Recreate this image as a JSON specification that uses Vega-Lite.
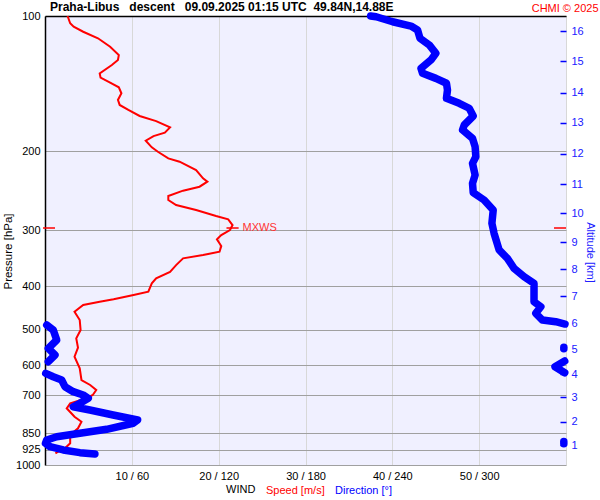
{
  "$schema": "https://vega.github.io/schema/vega-lite/v6.json",
  "autosize": "none",
  "padding": {"left": 45, "top": 16, "right": 34, "bottom": 35},
  "width": 521,
  "height": 449,
  "background": "white",
  "title": {
    "text": "Praha-Libus\u00a0\u00a0\u00a0descent\u00a0\u00a0\u00a009.09.2025 01:15 UTC\u00a0\u00a049.84N,14.88E",
    "anchor": "start",
    "frame": "group",
    "fontSize": 12,
    "fontWeight": "bold",
    "color": "black",
    "font": "Liberation Sans",
    "dx": 5,
    "offset": -12
  },
  "datasets": {
    "speed": [
      {"p": 100, "speed": 2.6}, {"p": 103.8, "speed": 2.9}, {"p": 105.6, "speed": 3.3}, {"p": 108.4, "speed": 4.4},
      {"p": 112.1, "speed": 6.1}, {"p": 117.1, "speed": 7.5}, {"p": 122.2, "speed": 8.5}, {"p": 125.3, "speed": 8.4},
      {"p": 128.6, "speed": 7.7}, {"p": 134.2, "speed": 6.3}, {"p": 137.2, "speed": 6.4}, {"p": 140.8, "speed": 7.5},
      {"p": 144.1, "speed": 8.5}, {"p": 148.6, "speed": 8.8}, {"p": 153.8, "speed": 8.4}, {"p": 157.8, "speed": 8.6},
      {"p": 161.9, "speed": 9.6}, {"p": 167.0, "speed": 10.9}, {"p": 171.4, "speed": 12.8}, {"p": 177.0, "speed": 14.4},
      {"p": 181.9, "speed": 13.8}, {"p": 185.1, "speed": 12.5}, {"p": 189.6, "speed": 11.6}, {"p": 196.1, "speed": 12.3},
      {"p": 200.6, "speed": 13.0}, {"p": 207.5, "speed": 14.2}, {"p": 211.1, "speed": 15.5}, {"p": 220.3, "speed": 17.4},
      {"p": 229.9, "speed": 18.2}, {"p": 233.9, "speed": 18.7}, {"p": 240.0, "speed": 17.8}, {"p": 244.9, "speed": 15.9},
      {"p": 251.7, "speed": 14.2}, {"p": 256.9, "speed": 14.2}, {"p": 263.6, "speed": 15.1}, {"p": 270.5, "speed": 17.4},
      {"p": 278.9, "speed": 19.7}, {"p": 283.7, "speed": 21.1}, {"p": 292.1, "speed": 21.6}, {"p": 299.7, "speed": 21.3},
      {"p": 307.5, "speed": 20.3}, {"p": 314.4, "speed": 19.8}, {"p": 325.4, "speed": 20.3}, {"p": 335.0, "speed": 20.1},
      {"p": 340.8, "speed": 18.2}, {"p": 346.6, "speed": 15.9}, {"p": 358.7, "speed": 15.1}, {"p": 371.3, "speed": 14.4},
      {"p": 384.0, "speed": 12.8}, {"p": 394.0, "speed": 12.3}, {"p": 411.2, "speed": 11.9}, {"p": 418.2, "speed": 10.2},
      {"p": 427.6, "speed": 7.9}, {"p": 432.8, "speed": 6.3}, {"p": 440.3, "speed": 4.4}, {"p": 455.6, "speed": 3.4},
      {"p": 475.5, "speed": 4.0}, {"p": 500.5, "speed": 4.1}, {"p": 522.3, "speed": 3.6}, {"p": 548.0, "speed": 3.8},
      {"p": 574.0, "speed": 3.4}, {"p": 609.1, "speed": 4.0}, {"p": 646.7, "speed": 4.2}, {"p": 663.5, "speed": 5.2},
      {"p": 680.8, "speed": 5.9}, {"p": 698.4, "speed": 5.5}, {"p": 710.3, "speed": 4.8}, {"p": 728.8, "speed": 2.9},
      {"p": 747.7, "speed": 2.5}, {"p": 780.6, "speed": 3.4}, {"p": 800.9, "speed": 4.2}, {"p": 828.5, "speed": 3.8},
      {"p": 857.4, "speed": 2.9}, {"p": 894.7, "speed": 2.9}, {"p": 917.9, "speed": 2.3}, {"p": 929.2, "speed": 1.7},
      {"p": 941.7, "speed": 1.2}
    ],
    "dir": [
      {"p": 100, "dir": 225, "seg": "a"}, {"p": 100.4, "dir": 228.8, "seg": "a"}, {"p": 103.0, "dir": 240.2, "seg": "a"},
      {"p": 105.3, "dir": 252.9, "seg": "a"}, {"p": 107.4, "dir": 257.4, "seg": "a"}, {"p": 112.1, "dir": 259.1, "seg": "a"},
      {"p": 116.0, "dir": 265.5, "seg": "a"}, {"p": 121.1, "dir": 270.1, "seg": "a"}, {"p": 125.3, "dir": 266.7, "seg": "a"},
      {"p": 130.8, "dir": 259.8, "seg": "a"}, {"p": 134.2, "dir": 260.9, "seg": "a"}, {"p": 137.7, "dir": 270.1, "seg": "a"},
      {"p": 141.2, "dir": 277.4, "seg": "a"}, {"p": 146.2, "dir": 278.1, "seg": "a"}, {"p": 152.5, "dir": 277.4, "seg": "a"},
      {"p": 156.5, "dir": 286.2, "seg": "a"}, {"p": 160.5, "dir": 293.1, "seg": "a"}, {"p": 167.0, "dir": 295.9, "seg": "a"},
      {"p": 174.9, "dir": 289.7, "seg": "a"}, {"p": 179.4, "dir": 288.5, "seg": "a"}, {"p": 187.3, "dir": 295.4, "seg": "a"},
      {"p": 195.5, "dir": 297.2, "seg": "a"}, {"p": 205.8, "dir": 297.7, "seg": "a"}, {"p": 212.9, "dir": 295.4, "seg": "a"},
      {"p": 226.0, "dir": 297.2, "seg": "a"}, {"p": 235.9, "dir": 295.4, "seg": "a"}, {"p": 247.4, "dir": 295.9, "seg": "a"},
      {"p": 256.9, "dir": 303.4, "seg": "a"}, {"p": 270.5, "dir": 309.7, "seg": "a"}, {"p": 289.5, "dir": 308.8, "seg": "a"},
      {"p": 304.8, "dir": 310.3, "seg": "a"}, {"p": 332.0, "dir": 313.8, "seg": "a"}, {"p": 346.6, "dir": 319.5, "seg": "a"},
      {"p": 364.8, "dir": 324.1, "seg": "a"}, {"p": 380.7, "dir": 331.0, "seg": "a"}, {"p": 394.0, "dir": 337.9, "seg": "a"},
      {"p": 414.6, "dir": 337.9, "seg": "a"}, {"p": 432.8, "dir": 337.9, "seg": "a"}, {"p": 444.0, "dir": 342.6, "seg": "a"},
      {"p": 459.3, "dir": 339.1, "seg": "a"}, {"p": 475.5, "dir": 343.7, "seg": "a"}, {"p": 479.6, "dir": 352.9, "seg": "a"},
      {"p": 485.3, "dir": 359.3, "seg": "a"},
      {"p": 487.7, "dir": 1.2, "seg": "b"}, {"p": 500.5, "dir": 5.7, "seg": "b"}, {"p": 526.8, "dir": 8.1, "seg": "b"},
      {"p": 549.8, "dir": 2.3, "seg": "b"}, {"p": 568.9, "dir": 6.9, "seg": "b"}, {"p": 588.8, "dir": 2.3, "seg": "b"},
      {"p": 546.5, "dir": 358.5, "seg": "c"}, {"p": 551.0, "dir": 358.5, "seg": "c"},
      {"p": 586.8, "dir": 359.1, "seg": "d"}, {"p": 604.2, "dir": 352.4, "seg": "d"}, {"p": 623.1, "dir": 359.1, "seg": "d"},
      {"p": 625.1, "dir": 0.5, "seg": "e"}, {"p": 636.0, "dir": 5.7, "seg": "e"}, {"p": 646.7, "dir": 11.5, "seg": "e"},
      {"p": 669.3, "dir": 13.8, "seg": "e"}, {"p": 686.6, "dir": 19.5, "seg": "e"}, {"p": 698.4, "dir": 26.4, "seg": "e"},
      {"p": 710.3, "dir": 29.9, "seg": "e"}, {"p": 728.8, "dir": 24.1, "seg": "e"}, {"p": 741.7, "dir": 19.5, "seg": "e"},
      {"p": 754.3, "dir": 31.0, "seg": "e"}, {"p": 773.8, "dir": 47.1, "seg": "e"}, {"p": 793.8, "dir": 64.0, "seg": "e"},
      {"p": 807.3, "dir": 60.9, "seg": "e"}, {"p": 832.7, "dir": 42.6, "seg": "e"}, {"p": 849.9, "dir": 24.1, "seg": "e"},
      {"p": 865.0, "dir": 8.1, "seg": "e"}, {"p": 879.6, "dir": 1.2, "seg": "e"}, {"p": 894.7, "dir": 0.3, "seg": "e"},
      {"p": 910.1, "dir": 3.4, "seg": "e"}, {"p": 925.8, "dir": 12.6, "seg": "e"}, {"p": 938.7, "dir": 24.1, "seg": "e"},
      {"p": 945.0, "dir": 34.5, "seg": "e"},
      {"p": 887.0, "dir": 358.5, "seg": "f"}, {"p": 897.0, "dir": 358.5, "seg": "f"}
    ],
    "mxws": [{"p": 296.6, "speed": 21.6, "label": "MXWS"}]
  },
  "layer": [
    {
      "layer": [
        {
          "data": {"name": "speed"},
          "mark": {"type": "line", "strokeWidth": 2, "clip": false},
          "encoding": {
            "x": {
              "field": "speed", "type": "quantitative",
              "scale": {"domain": [0, 60], "nice": false, "zero": false},
              "axis": {
                "orient": "bottom", "values": [10, 20, 30, 40, 50, 60],
                "labelExpr": "datum.value == 60 ? '' : datum.value + ' / ' + (datum.value * 6)",
                "grid": true, "gridColor": "#d8d8d8", "gridWidth": 1,
                "domain": false, "ticks": false, "labelPadding": 5, "title": null
              }
            },
            "y": {
              "field": "p", "type": "quantitative",
              "scale": {"type": "log", "domain": [100, 1000], "reverse": true, "nice": false},
              "axis": {
                "orient": "left", "values": [100, 200, 300, 400, 500, 600, 700, 850, 925, 1000],
                "labelExpr": "format(datum.value, 'd')",
                "grid": true, "gridColor": "#a0a0a0", "gridWidth": 1,
                "domain": true, "domainColor": "black", "domainWidth": 1.5,
                "ticks": false, "labelPadding": 5,
                "title": "Pressure [hPa]", "titleX": -37, "titleY": 235, "titleAngle": -90,
                "titleAlign": "center", "titleBaseline": "middle"
              }
            },
            "order": {"field": "p", "type": "quantitative"},
            "color": {
              "datum": "Speed [m/s]", "type": "nominal",
              "scale": {"domain": ["Speed [m/s]", "Direction [°]"], "range": ["#ff0000", "#0000ff"]},
              "legend": {
                "orient": "none", "legendX": 181, "legendY": 469, "direction": "horizontal",
                "title": "WIND", "titleOrient": "left",
                "labelOffset": -8, "columnPadding": 7, "titlePadding": 7,
                "encode": {"labels": {"update": {"fill": {"signal": "datum.label === 'Speed [m/s]' ? '#ff0000' : '#0000ff'"}}}}
              }
            }
          }
        },
        {
          "data": {"name": "mxws"},
          "mark": {"type": "rule", "color": "#ff0000", "strokeWidth": 1.5, "clip": false},
          "encoding": {
            "x": {"datum": 20.9, "type": "quantitative"},
            "x2": {"datum": 22.3},
            "y": {"field": "p", "type": "quantitative"}
          }
        },
        {
          "data": {"name": "mxws"},
          "mark": {"type": "rule", "color": "#ff0000", "strokeWidth": 1.5, "clip": false},
          "encoding": {
            "x": {"datum": -0.23, "type": "quantitative"},
            "x2": {"datum": 1.15},
            "y": {"field": "p", "type": "quantitative"}
          }
        },
        {
          "data": {"name": "mxws"},
          "mark": {"type": "rule", "color": "#ff0000", "strokeWidth": 1.5, "clip": false},
          "encoding": {
            "x": {"datum": 58.62, "type": "quantitative"},
            "x2": {"datum": 60.0},
            "y": {"field": "p", "type": "quantitative"}
          }
        },
        {
          "data": {"name": "mxws"},
          "mark": {"type": "text", "color": "#ff3333", "fontSize": 11, "align": "left", "baseline": "middle", "dx": 10, "font": "Liberation Sans"},
          "encoding": {
            "x": {"field": "speed", "type": "quantitative"},
            "y": {"field": "p", "type": "quantitative"},
            "text": {"field": "label"}
          }
        }
      ]
    },
    {
      "data": {"name": "dir"},
      "mark": {"type": "line", "strokeWidth": 7.5, "strokeCap": "round", "strokeJoin": "round", "clip": false},
      "encoding": {
        "x": {
          "field": "dir", "type": "quantitative",
          "scale": {"domain": [0, 360], "nice": false, "zero": false},
          "axis": {
            "orient": "top", "domain": true, "domainColor": "black", "domainWidth": 1.5,
            "ticks": false, "labels": false, "grid": false,
            "title": "CHMI © 2025", "titleColor": "#ff0000", "titleFontSize": 11, "titleFontWeight": "normal",
            "titleX": 553, "titleY": -8, "titleAlign": "right", "titleBaseline": "middle", "titleAngle": 0
          }
        },
        "y": {
          "field": "p", "type": "quantitative",
          "scale": {"type": "log", "domain": [100, 1000], "reverse": true, "nice": false},
          "axis": {
            "orient": "right",
            "values": [902.6, 801, 706.8, 627.1, 552.5, 483.5, 420.4, 366.6, 319.2, 275.1, 236.7, 202.6, 173.1, 148.4, 126.1, 108],
            "labelExpr": "indexof([902.6, 801, 706.8, 627.1, 552.5, 483.5, 420.4, 366.6, 319.2, 275.1, 236.7, 202.6, 173.1, 148.4, 126.1, 108], datum.value) + 1",
            "offset": -6, "tickSize": 6, "tickColor": "#0000ff", "tickWidth": 1.5,
            "domain": false, "grid": false, "labelColor": "#2020ff", "labelPadding": 5,
            "title": "Altitude [km]", "titleColor": "#2020ff", "titleFontSize": 11, "titleAngle": 90,
            "titleX": 29, "titleY": 236, "titleAlign": "center", "titleBaseline": "middle"
          }
        },
        "detail": {"field": "seg", "type": "nominal"},
        "order": {"field": "p", "type": "quantitative"},
        "color": {"datum": "Direction [°]", "type": "nominal"}
      }
    }
  ],
  "resolve": {"scale": {"x": "independent", "y": "independent"}},
  "config": {
    "font": "Liberation Sans",
    "view": {"fill": "#f0f0ff", "stroke": null},
    "axis": {
      "labelFont": "Liberation Sans", "titleFont": "Liberation Sans",
      "labelFontSize": 11, "titleFontSize": 11.5, "titleFontWeight": "normal",
      "labelColor": "black", "titleColor": "black"
    },
    "legend": {
      "labelFont": "Liberation Sans", "titleFont": "Liberation Sans",
      "labelFontSize": 11, "titleFontSize": 11, "titleFontWeight": "normal", "titleColor": "black",
      "symbolSize": 0, "symbolOpacity": 0, "symbolStrokeWidth": 0, "symbolType": "circle",
      "labelBaseline": "middle", "titleBaseline": "middle"
    }
  }
}
